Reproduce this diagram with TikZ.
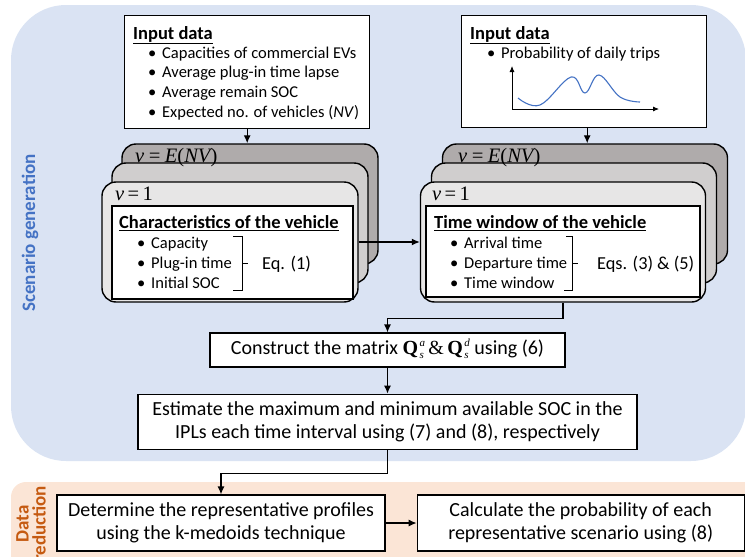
\documentclass[tikz,border=0pt]{standalone}
\usepackage{fontspec}
\setmainfont{Carlito}
\newfontfamily\tms{Liberation Serif}
\usetikzlibrary{arrows.meta}
\usetikzlibrary{positioning}

\definecolor{panelblue}{HTML}{DAE3F3}
\definecolor{panelorange}{HTML}{FBE5D6}
\definecolor{cardback}{HTML}{AFABAB}
\definecolor{cardmid}{HTML}{D0CECE}
\definecolor{cardfront}{HTML}{E7E6E6}
\definecolor{titleblue}{HTML}{4472C4}
\definecolor{titlebrown}{HTML}{C55A11}

\newcommand{\bul}{\makebox[14pt][l]{\textbullet}}
\newcommand{\Qm}[1]{{\tms\bfseries Q}\kern1.5pt\raisebox{-4pt}{\tms\itshape\fontsize{11}{11}\selectfont
    \begin{tabular}[b]{@{}l@{}}#1\\[1pt]s\end{tabular}}}

\tikzset{
  inputbox/.style={draw, line width=1.4pt, fill=white, inner sep=0pt},
  card/.style={draw, line width=1.4pt, rounded corners=14pt, minimum height=120pt, inner sep=0pt},
  innerbox/.style={draw, line width=1.2pt, fill=white, inner sep=0pt},
  stepbox/.style={draw, line width=1.2pt, fill=white, align=center, inner sep=0pt,
    font=\fontsize{20}{23.5}\selectfont},
  link/.style={line width=1.2pt, -{Latex[length=8pt,width=7pt]}},
  vlabel/.style={anchor=base west, inner sep=0pt, font=\tms\fontsize{20.5}{20.5}\selectfont},
  heading/.style={anchor=base west, inner sep=0pt, font=\bfseries\fontsize{18.5}{22}\selectfont},
  item/.style={anchor=base west, inner sep=0pt, font=\fontsize{16.5}{19.7}\selectfont},
  eqlabel/.style={anchor=base west, inner sep=0pt, font=\fontsize{18.3}{22}\selectfont},
  brace/.style={line width=0.9pt},
  sidetitle/.style={rotate=90, align=center, font=\bfseries\fontsize{19}{17}\selectfont},
}

\begin{document}
\begin{tikzpicture}[x=1pt, y=1pt]
    \useasboundingbox (0,0) rectangle (745,-557);
    \clip (0,0) rectangle (745,-557);

    % panels
    \fill[panelblue, rounded corners=55pt] (11,-5) rectangle (746,-461);
    \fill[panelorange, rounded corners=15pt] (11,-482) rectangle (790,-600);
    \node[sidetitle, text=titleblue] (scengen) at (30,-233) {Scenario generation};
    \node[sidetitle, text=titlebrown] (datared) at (31,-524) {Data\\reduction};

    % input data, vehicles
    \node[inputbox, minimum width=245pt, minimum height=113pt, anchor=north west] (inbox1) at (124,-15) {};
    \node[heading] (in1head) at (133,-39) {\underline{Input data}};
    \foreach \t [count=\i] in {Capacities of commercial EVs, Average plug-in time lapse,
        Average remain SOC, Expected no. of vehicles (\textit{NV})}
        \node[item] (in1item\i) at (148,{-38.3-19.7*\i}) {\bul\t};

    % input data, trips
    \node[inputbox, minimum width=245pt, minimum height=112pt, anchor=north west] (inbox2) at (461,-15) {};
    \node[heading] (in2head) at (470,-39) {\underline{Input data}};
    \node[item] (in2item1) at (487,-58) {\bul Probability of daily trips};
    \draw[line width=0.8pt, -{Latex[length=6pt,width=5pt]}] (512,-109) -- (512,-66);
    \draw[line width=0.8pt, -{Latex[length=6pt,width=5pt]}] (512,-109) -- (659,-109);
    \draw[titleblue, line width=1.1pt] plot[smooth, tension=0.65] coordinates
        {(518,-98) (540,-105) (571,-77) (585,-93) (599,-75) (620,-97) (640,-102)};

    % stacks of vehicles
    \foreach \k/\col/\cx in {0/cardback/250, 1/cardmid/240, 2/cardfront/230}
        \node[card, fill=\col, minimum width=256pt] (L\k) at (\cx,{-204-19*\k}) {};
    \foreach \k/\col/\cx in {0/cardback/585, 1/cardmid/574, 2/cardfront/563}
        \node[card, fill=\col, minimum width=285pt] (R\k) at (\cx,{-204-19*\k}) {};

    \node[vlabel] (L0v) at (135,-162) {\itshape v\,=\,E\upshape(\itshape NV\upshape)};
    \node[vlabel] (L2v) at (115,-200) {\itshape v\upshape\,=\,1};
    \node[vlabel] (R0v) at (458,-162) {\itshape v\,=\,E\upshape(\itshape NV\upshape)};
    \node[vlabel] (R2v) at (432,-200) {\itshape v\upshape\,=\,1};

    % characteristics
    \node[innerbox, minimum width=241pt, minimum height=93pt] (charbox) at (232.5,-252.5) {};
    \node[heading] (charhead) at (119,-228.5) {\underline{Characteristics of the vehicle}};
    \foreach \t [count=\i] in {Capacity, Plug-in time, Initial SOC}
        \node[item] (charitem\i) at (137,{-228.5-20*\i}) {\bul\t};
    \draw[brace] (233,-236) -| (242,-290) -- (233,-290);
    \draw[brace] (242,-263) -- (248,-263);
    \node[eqlabel] (chareq) at (262,-269) {Eq. (1)};

    % time window
    \node[innerbox, minimum width=274pt, minimum height=91pt] (timebox) at (563,-251.5) {};
    \node[heading] (timehead) at (434,-228.5) {\underline{Time window of the vehicle}};
    \foreach \t [count=\i] in {Arrival time, Departure time, Time window}
        \node[item] (timeitem\i) at (450,{-228.5-20*\i}) {\bul\t};
    \draw[brace] (566,-236) -| (572,-290) -- (564,-290);
    \draw[brace] (572,-263) -- (578,-263);
    \node[eqlabel] (timeeq) at (597,-269) {Eqs. (3) \& (5)};

    % steps
    \node[stepbox, minimum width=355pt, minimum height=34pt] (construct) at (387.5,-350)
        {Construct the matrix \Qm{a}\,{\tms\&}\,\Qm{d} using (6)};
    \node[stepbox, minimum width=499pt, minimum height=55pt] (estimate) [below=26pt of construct]
        {Estimate the maximum and minimum available SOC in the\\IPLs each time interval using (7) and (8), respectively};
    \node[stepbox, minimum width=328pt, minimum height=56pt] (determine) at (221,-523)
        {Determine the representative profiles\\using the k-medoids technique};
    \node[stepbox, minimum width=327pt, minimum height=56pt] (calculate) [right=31pt of determine]
        {Calculate the probability of each\\representative scenario using (8)};

    % links
    \draw[link] (inbox1.south) -- (inbox1.south |- L0.north);
    \draw[link] ([xshift=3pt]inbox2.south) -- ([xshift=3pt]inbox2.south |- R0.north);
    \draw[link] (L2.east) -- (R2.west);
    \draw[link] (R2.south) -- ++(0,-16) -| (construct.north);
    \draw[link] (construct) -- (estimate);
    \draw[link] (estimate.south) -- ++(0,-24) -| (determine.north);
    \draw[link] (determine) -- (calculate);
\end{tikzpicture}
\end{document}
